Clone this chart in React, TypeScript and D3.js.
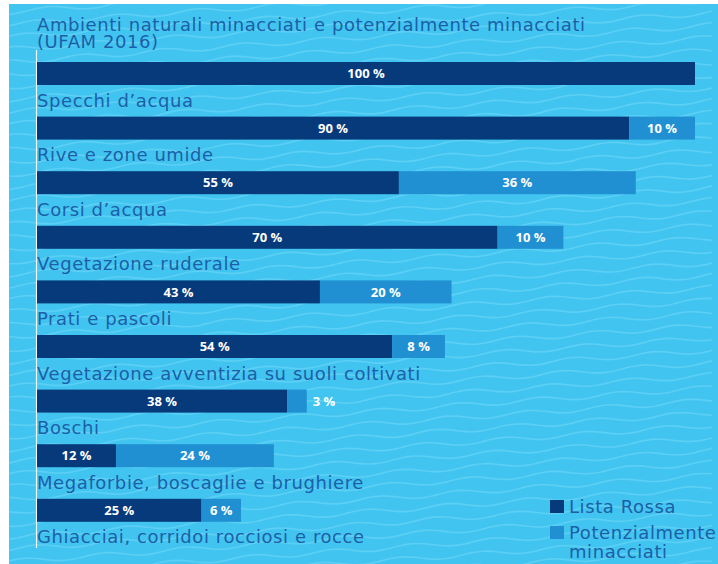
import React from "react";
import * as d3 from "d3";

const titleLines = ["Ambienti naturali minacciati e potenzialmente minacciati", "(UFAM 2016)"];
const categories = [
  "Specchi d’acqua",
  "Rive e zone umide",
  "Corsi d’acqua",
  "Vegetazione ruderale",
  "Prati e pascoli",
  "Vegetazione avventizia su suoli coltivati",
  "Boschi",
  "Megaforbie, boscaglie e brughiere",
  "Ghiacciai, corridoi rocciosi e rocce",
];
const listaRossa = [100, 90, 55, 70, 43, 54, 38, 12, 25];
const potenziali = [0, 10, 36, 10, 20, 8, 3, 24, 6];
const legendLabels = ["Lista Rossa", ["Potenzialmente", "minacciati"]];

const W = 718;
const H = 564;
const BG = "#41c5f0";
const WAVE = "#62d1f5";
const DARK = "#073a7b";
const MID = "#2190d2";
const TEXT = "#1d5fa7";
const FONT = "'DejaVu Sans', Verdana, sans-serif";
const LABELFONT = "'Open Sans', 'Noto Sans', sans-serif";
const FS = 18;
const LS = 0.58;

export default function App() {
  const x = d3.scaleLinear().domain([0, 100]).range([37, 695]);
  const y = d3.scaleLinear().domain([0, 9]).range([62, 62 + 9 * 54.6]);
  const barH = 23;

  // decorative wave background
  const waveLine = d3
    .line<[number, number]>()
    .x((d) => d[0])
    .y((d) => d[1])
    .curve(d3.curveBasis);
  const waves: string[] = [];
  for (let k = -6; k < 56; k++) {
    const pts: [number, number][] = [];
    for (let px = 0; px <= W; px += 8) {
      pts.push([px, k * 12.5 - px * 0.07 + 2.6 * Math.sin((px / 80) * 2 * Math.PI + k * 0.9)]);
    }
    waves.push(waveLine(pts) || "");
  }

  return (
    <svg width={W} height={H} style={{ position: "absolute", left: 0, top: 0 }}>
      <defs>
        <clipPath id="bgclip">
          <rect x={9} y={4} width={W - 9} height={H - 4} />
        </clipPath>
      </defs>
      <rect x={0} y={0} width={W} height={H} fill="#ffffff" />
      <g clipPath="url(#bgclip)">
        <rect x={9} y={4} width={W - 9} height={H - 4} fill={BG} />
        {waves.map((d, i) => (
          <path key={i} d={d} fill="none" stroke={WAVE} strokeWidth={1.7} opacity={0.8} />
        ))}
      </g>

      {/* axis line */}
      <line x1={36.5} x2={36.5} y1={50} y2={548} stroke="#ffffff" strokeWidth={1.2} opacity={0.95} />

      {/* title */}
      <text fontFamily={FONT} fontSize={FS} letterSpacing={LS} fill={TEXT}>
        <tspan x={37} y={31}>{titleLines[0]}</tspan>
        <tspan x={37} y={47.5}>{titleLines[1]}</tspan>
      </text>

      {/* category labels (above next bar) */}
      {categories.map((c, i) => (
        <text key={c} x={37} y={y(i + 1) - 10} fontFamily={FONT} fontSize={FS} letterSpacing={LS} fill={TEXT}>
          {c}
        </text>
      ))}

      {/* bars */}
      {listaRossa.map((v, i) => {
        const p = potenziali[i];
        const x0 = x(0);
        const x1 = x(v);
        const x2 = x(v + p);
        const cy = y(i) + barH / 2;
        const smallP = p > 0 && x2 - x1 < 30;
        return (
          <g key={i}>
            <rect x={x0} y={y(i)} width={x1 - x0} height={barH} fill={DARK} />
            {p > 0 && <rect x={x1} y={y(i)} width={x2 - x1} height={barH} fill={MID} />}
            <text
              x={(x0 + x1) / 2}
              y={cy}
              dy="0.36em"
              textAnchor="middle"
              fontFamily={LABELFONT}
              fontWeight={700}
              fontSize={13}
              fill="#ffffff"
            >
              {v} %
            </text>
            {p > 0 && (
              <text
                x={smallP ? x2 + 6 : (x1 + x2) / 2}
                y={cy}
                dy="0.36em"
                textAnchor={smallP ? "start" : "middle"}
                fontFamily={LABELFONT}
                fontWeight={700}
                fontSize={13}
                fill="#ffffff"
              >
                {p} %
              </text>
            )}
          </g>
        );
      })}

      {/* legend */}
      <rect x={550} y={500} width={14} height={13} fill={DARK} />
      <text x={569} y={513} fontFamily={FONT} fontSize={FS} letterSpacing={LS} fill={TEXT}>
        {legendLabels[0] as string}
      </text>
      <rect x={550} y={526} width={14} height={13} fill={MID} />
      <text fontFamily={FONT} fontSize={FS} letterSpacing={LS} fill={TEXT}>
        <tspan x={569} y={539}>{(legendLabels[1] as string[])[0]}</tspan>
        <tspan x={569} y={558}>{(legendLabels[1] as string[])[1]}</tspan>
      </text>
    </svg>
  );
}
